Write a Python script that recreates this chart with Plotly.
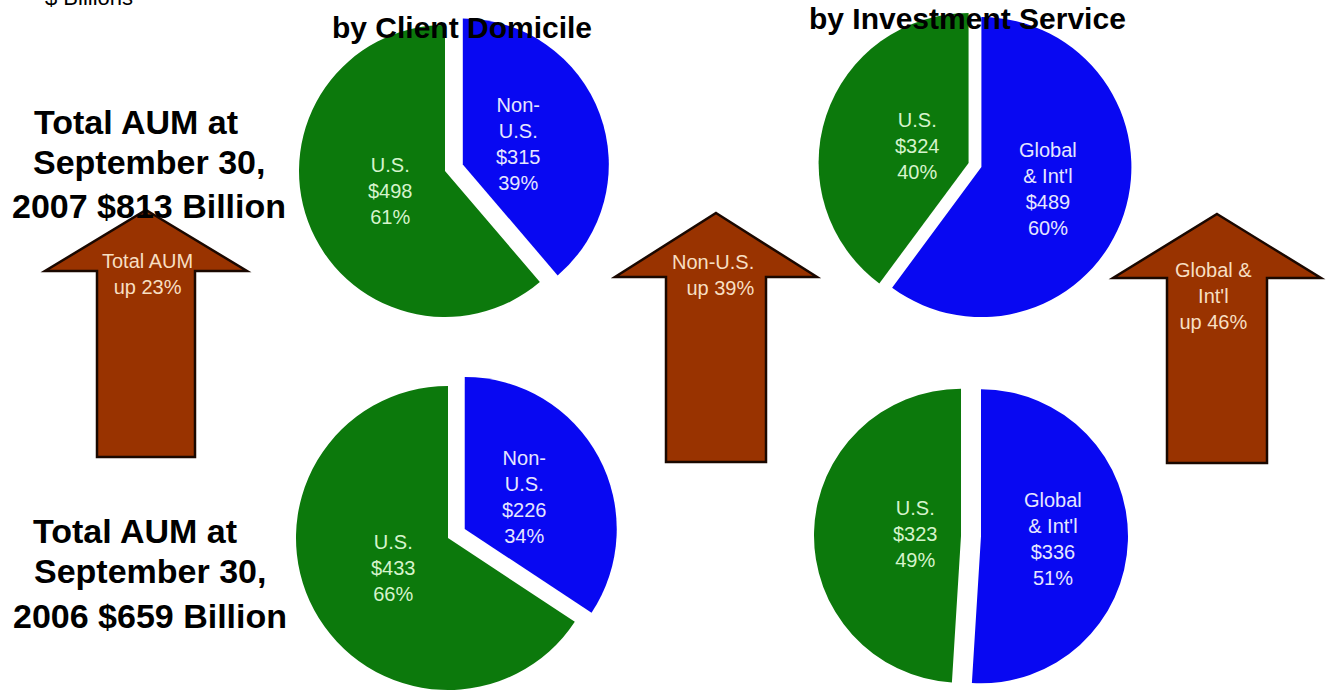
import math
import plotly.graph_objects as go

# ---- data ($ billions) ----
domicile_names = ["U.S.", "Non-<br>U.S."]
domicile_2007 = [498, 315]
domicile_2006 = [433, 226]

service_names = ["U.S.", "Global<br>& Int'l"]
service_2007 = [324, 489]
service_2006 = [323, 336]

slice_colors = ["#0c790c", "#0808f2"]
slice_text_colors = ["#d6f4cc", "#e6e6ff"]

W, H = 1331, 691
FONT = "Liberation Sans, Arial, sans-serif"

fig = go.Figure()


def add_pie(names, values, center, radius, pull, label_r):
    """Each slice is its own trace so it can be offset independently.
    Slices run clockwise from 12 o'clock in reverse order, which puts the
    first category (U.S.) on the left half. Labels sit along each slice's
    mid-angle at label_r * radius from the slice apex."""
    order = list(range(len(values)))[::-1]
    vals = [values[k] for k in order]
    total = sum(vals)
    cx, cy = center
    start = 0.0
    for i, k in enumerate(order):
        frac = vals[i] / total
        mid = math.radians((start + frac / 2) * 360)  # clockwise from 12 o'clock
        start += frac
        shift = pull[k] * radius
        px = cx + shift * math.sin(mid)
        py = cy - shift * math.cos(mid)
        colors = [slice_colors[k] if j == i else "rgba(0,0,0,0)" for j in range(len(vals))]
        fig.add_trace(go.Pie(
            values=vals,
            sort=False,
            direction="clockwise",
            rotation=0,
            marker=dict(colors=colors, line=dict(width=0)),
            textinfo="none",
            domain=dict(
                x=[(px - radius) / W, (px + radius) / W],
                y=[1 - (py + radius) / H, 1 - (py - radius) / H],
            ),
            hoverinfo="skip",
            showlegend=False,
        ))
        lr = label_r[k] * radius
        fig.add_annotation(
            x=px + lr * math.sin(mid), y=py - lr * math.cos(mid),
            xref="x", yref="y", showarrow=False, xanchor="center", yanchor="middle",
            text=f"{names[k]}<br>${values[k]}<br>{round(100 * values[k] / total)}%",
            font=dict(family=FONT, size=20, color=slice_text_colors[k]),
        )


add_pie(domicile_names, domicile_2007, (445, 171), 146, [0, 0.13], [0.40, 0.41])
add_pie(service_names, service_2007, (975, 165), 150, [0.045, 0.045], [0.36, 0.47])
add_pie(domicile_names, domicile_2006, (448, 538), 152, [0, 0.125], [0.41, 0.45])
add_pie(service_names, service_2006, (971, 536), 147, [0.068, 0.068], [0.31, 0.49])


def growth(new, old):
    return round((new / old - 1) * 100)


total_up = growth(sum(domicile_2007), sum(domicile_2006))
non_us_up = growth(domicile_2007[1], domicile_2006[1])
global_up = growth(service_2007[1], service_2006[1])


def arrow_path(cx, tip, head_base, head_half, shaft_half, bottom):
    return (f"M {cx},{tip} L {cx + head_half},{head_base} L {cx + shaft_half},{head_base} "
            f"L {cx + shaft_half},{bottom} L {cx - shaft_half},{bottom} "
            f"L {cx - shaft_half},{head_base} L {cx - head_half},{head_base} Z")


arrows = [
    dict(cx=146, tip=210, head_base=271, head_half=101, shaft_half=49, bottom=457),
    dict(cx=716, tip=213, head_base=277, head_half=101, shaft_half=50, bottom=462),
    dict(cx=1217, tip=214, head_base=278, head_half=104, shaft_half=50, bottom=463),
]
for a in arrows:
    fig.add_shape(type="path", path=arrow_path(**a), xref="x", yref="y",
                  fillcolor="#993300", line=dict(color="#1a0800", width=2.5), layer="below")

arrow_font = dict(family=FONT, size=20, color="#f7dfc2")
arrow_labels = [
    (f"Total AUM<br>up {total_up}%", 147, 274, "center", "center"),
    (f"Non-U.S.<br>up {non_us_up}%", 756, 275, "right", "right"),
    (f"Global &<br>Int'l<br>up {global_up}%", 1213, 296, "center", "center"),
]
for txt, x, y, align, xanchor in arrow_labels:
    fig.add_annotation(x=x, y=y, xref="x", yref="y", text=txt, showarrow=False,
                       align=align, xanchor=xanchor, yanchor="middle", font=arrow_font)

# Totals blocks at left
big = dict(family=FONT, size=34, color="black")
total_2007 = sum(domicile_2007)
total_2006 = sum(domicile_2006)
left_lines = [
    ("<b>Total AUM at</b>", 136, 122),
    ("<b>September 30,</b>", 149, 162),
    (f"<b>2007 ${total_2007} Billion</b>", 149, 206),
    ("<b>Total AUM at</b>", 135, 531),
    ("<b>September 30,</b>", 150, 571),
    (f"<b>2006 ${total_2006} Billion</b>", 150, 616),
]
for txt, x, y in left_lines:
    fig.add_annotation(x=x, y=y, xref="x", yref="y", text=txt, showarrow=False,
                       xanchor="center", yanchor="middle", font=big)

title_font = dict(family=FONT, size=30, color="black")
fig.add_annotation(x=462, y=27, xref="x", yref="y", text="<b>by Client Domicile</b>",
                   showarrow=False, xanchor="center", yanchor="middle", font=title_font)
fig.add_annotation(x=967, y=18, xref="x", yref="y", text="<b>by Investment Service</b>",
                   showarrow=False, xanchor="center", yanchor="middle", font=title_font)
fig.add_annotation(x=89 / W, y=1 + 3 / H, xref="paper", yref="paper", text="$ Billions",
                   showarrow=False, xanchor="center", yanchor="middle",
                   font=dict(family=FONT, size=22, color="black"))

fig.update_layout(
    width=W, height=H,
    margin=dict(l=0, r=0, t=0, b=0),
    paper_bgcolor="white", plot_bgcolor="white",
    xaxis=dict(range=[0, W], visible=False, fixedrange=True),
    yaxis=dict(range=[H, 0], visible=False, fixedrange=True),
    showlegend=False,
)

fig.write_html("out.html")
